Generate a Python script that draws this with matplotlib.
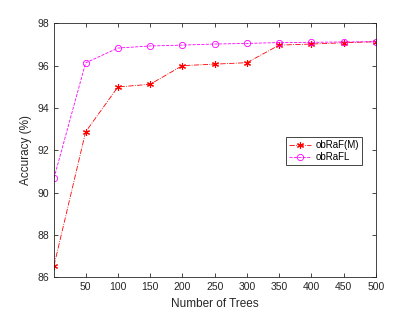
import numpy as np
import matplotlib.pyplot as plt

plt.rcParams['font.family'] = ['Liberation Sans', 'DejaVu Sans']
plt.rcParams['font.size'] = 7.5

# Datos
trees = [1, 50, 100, 150, 200, 250, 300, 350, 400, 450, 500]
obraf_m = [86.55, 92.87, 94.99, 95.12, 96.0, 96.07, 96.14, 96.97, 97.02, 97.08, 97.13]
obrafl = [90.69, 96.13, 96.83, 96.93, 96.97, 97.02, 97.05, 97.09, 97.1, 97.12, 97.13]
xticks = [50, 100, 150, 200, 250, 300, 350, 400, 450, 500]
yticks = [86, 88, 90, 92, 94, 96, 98]

fig = plt.figure(figsize=(4.15, 3.12), dpi=100)
ax = fig.add_axes([54 / 415, 1 - 277.3 / 312, (376 - 54) / 415, (277.3 - 23.3) / 312])

ax.plot(trees, obraf_m, color='#ff0000', linestyle='-.', linewidth=0.6,
        marker=(6, 2, 0), markersize=5, markeredgewidth=0.8, label='obRaF(M)')
ax.plot(trees, obrafl, color='#ff00ff', linestyle='--', linewidth=0.6,
        marker='o', markersize=4.5, markerfacecolor='none', markeredgewidth=0.6,
        label='obRaFL')

ax.set_xlim(1, 500)
ax.set_ylim(86, 98)
ax.set_xticks(xticks)
ax.set_yticks(yticks)
ax.tick_params(direction='in', top=True, right=True, length=3, width=0.6,
               colors='#262626', labelsize=7.5)
for s in ax.spines.values():
    s.set_linewidth(0.6)
    s.set_color('#262626')
ax.set_xlabel('Number of Trees', fontsize=8.5, color='#262626')
ax.set_ylabel('Accuracy (%)', fontsize=8.5, color='#262626')

leg = ax.legend(loc='upper left', bbox_to_anchor=((286 - 54) / 322, 1 - (137 - 23.3) / 254),
                fancybox=False, edgecolor='#262626', framealpha=1, fontsize=7,
                handlelength=2.3, borderpad=0.3, labelspacing=0.25, handletextpad=0.4,
                borderaxespad=0)
leg.get_frame().set_linewidth(0.6)

fig.savefig('out.png', dpi=100)
